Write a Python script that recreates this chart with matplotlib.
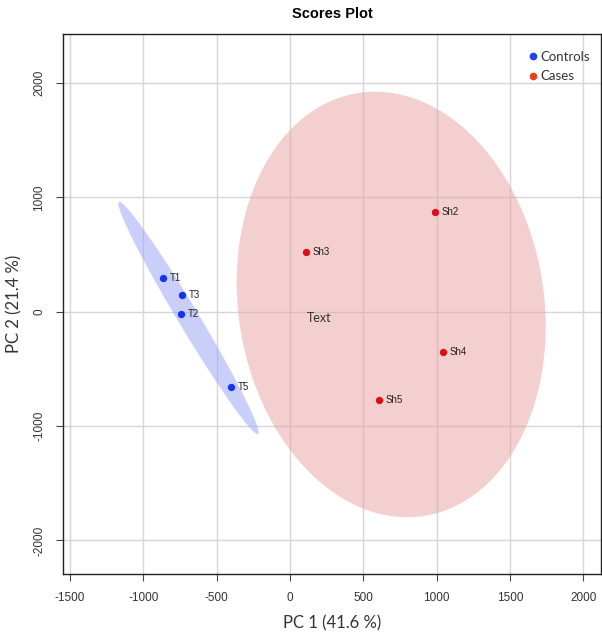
import numpy as np
import matplotlib
matplotlib.use("Agg")
import matplotlib.pyplot as plt
from matplotlib.lines import Line2D

# ---- data ----
control_labels = ["T1", "T3", "T2", "T5"]
control_pc1 = [-864, -738, -743, -404]
control_pc2 = [295, 146, -20, -656]

case_labels = ["Sh2", "Sh3", "Sh4", "Sh5"]
case_pc1 = [988, 109, 1043, 607]
case_pc2 = [872, 524, -352, -775]

# confidence ellipses: centre, half-major vector, half-minor vector (data units)
control_ellipse_center = [-692, -55]
control_ellipse_major = [474, -1014]
control_ellipse_minor = [61, 47]

case_ellipse_center = [690, 63]
case_ellipse_major = [-165, 1857]
case_ellipse_minor = [1040, 100]

extra_text = "Text"
extra_text_pos = [114, -58]

x_ticks = [-1500, -1000, -500, 0, 500, 1000, 1500, 2000]
y_ticks = [-2000, -1000, 0, 1000, 2000]

# ---- figure ----
fig = plt.figure(figsize=(6.02, 6.32), dpi=100)
ax_w = (601 - 63.3) / 602
ax_h = (574 - 34) / 632
ax = fig.add_axes([63.3 / 602, 1 - 574 / 632, ax_w, ax_h])
ax.set_xlim(-1545, 2120)
ax.set_ylim(-2293, 2427)
ax.set_axisbelow(True)
ax.grid(True, color="#d6d6d6", linewidth=1.0)

def draw_ellipse(center, major, minor, color, alpha):
    t = np.linspace(0, 2 * np.pi, 300)
    c = np.array(center, float)
    a = np.array(major, float)
    b = np.array(minor, float)
    pts = c[None, :] + np.cos(t)[:, None] * a[None, :] + np.sin(t)[:, None] * b[None, :]
    ax.fill(pts[:, 0], pts[:, 1], color=color, alpha=alpha, linewidth=0, zorder=2)

draw_ellipse(case_ellipse_center, case_ellipse_major, case_ellipse_minor, "#e9a3a3", 0.52)
draw_ellipse(control_ellipse_center, control_ellipse_major, control_ellipse_minor, "#9aa3f7", 0.52)

blue = "#1533f2"
red = "#dc0d14"
ax.scatter(control_pc1, control_pc2, s=28, color=blue, zorder=4, linewidths=0)
ax.scatter(case_pc1, case_pc2, s=28, color=red, zorder=4, linewidths=0)

lab_font = dict(family=["Liberation Sans", "DejaVu Sans"], fontsize=7, color="#222222")
for lx, ly, lt in zip(control_pc1, control_pc2, control_labels):
    ax.annotate(lt, (lx, ly), xytext=(5, 0), textcoords="offset points",
                va="center", ha="left", zorder=5, **lab_font)
for lx, ly, lt in zip(case_pc1, case_pc2, case_labels):
    ax.annotate(lt, (lx, ly), xytext=(5, 0), textcoords="offset points",
                va="center", ha="left", zorder=5, **lab_font)

ax.text(extra_text_pos[0], extra_text_pos[1], extra_text, ha="left", va="center",
        family=["Lato", "DejaVu Sans"], fontsize=9, color="#333333", zorder=5)

ax.set_xticks(x_ticks)
ax.set_yticks(y_ticks)
ax.set_xticklabels([str(v) for v in x_ticks])
ax.set_yticklabels([str(v) for v in y_ticks], rotation=90, va="center")
ax.tick_params(direction="out", length=5, width=0.8, color="#444444",
               labelsize=8.5, labelcolor="#333333", pad=8)
for lab in ax.get_xticklabels() + ax.get_yticklabels():
    lab.set_family(["Liberation Sans", "DejaVu Sans"])
for sp in ax.spines.values():
    sp.set_color("#222222")
    sp.set_linewidth(1.0)

ax.set_xlabel("PC 1 (41.6 %)", family=["Lato", "DejaVu Sans"], fontsize=12,
              color="#333333", labelpad=8)
ax.set_ylabel("PC 2 (21.4 %)", family=["Lato", "DejaVu Sans"], fontsize=12,
              color="#333333", labelpad=8)
fig.text(0.5 * (63.3 + 601) / 602, 1 - 14 / 632, "Scores Plot", ha="center", va="center",
         family=["Liberation Sans", "DejaVu Sans"], fontsize=10.5, fontweight="bold")

handles = [Line2D([0], [0], marker="o", linestyle="", color="#1f3ff0", markersize=4.5),
           Line2D([0], [0], marker="o", linestyle="", color="#e8421c", markersize=4.5)]
leg = ax.legend(handles, ["Controls", "Cases"], loc="upper right", frameon=False,
                bbox_to_anchor=(1 - 7 / 537.7, 1 - 13 / 540),
                prop=dict(family=["Lato", "DejaVu Sans"], size=9.5),
                handletextpad=0.1, borderaxespad=0.0, labelspacing=0.55,
                handlelength=1.0, borderpad=0.3)
for t in leg.get_texts():
    t.set_color("#333333")

fig.savefig("out.png", dpi=100, facecolor="white")
